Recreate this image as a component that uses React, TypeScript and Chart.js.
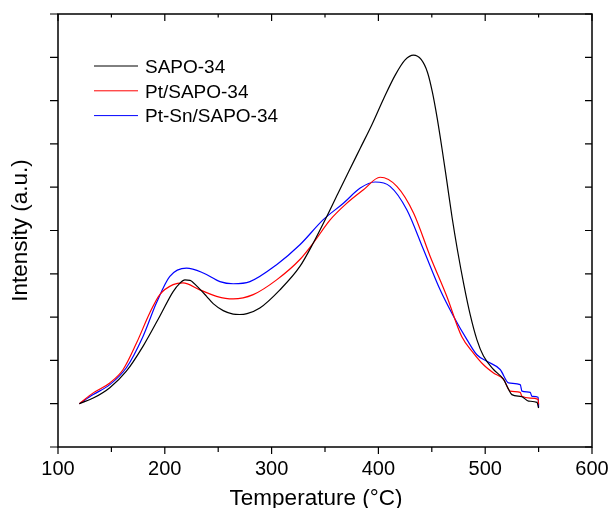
import React, { useEffect, useRef } from "react";
import { Chart, registerables } from "chart.js";

Chart.register(...registerables);

const seriesLabels = ["SAPO-34", "Pt/SAPO-34", "Pt-Sn/SAPO-34"];
const seriesColors = ["#000000", "#ff0000", "#0000ff"];

const xMajorTicks = [100, 200, 300, 400, 500, 600];
const xMinorTicks = [150, 250, 350, 450, 550];
const yTicks = [0, 1, 2, 3, 4, 5, 6, 7, 8, 9, 10];
const xTitle = "Temperature (\u00b0C)";
const yTitle = "Intensity (a.u.)";

const sapoTemp = [120, 133, 148.5, 164, 179.7, 195.3, 207.8, 214, 218.8, 223.6, 229.8, 239.1, 245.3, 254.7, 264, 270, 277, 289, 307.8, 326.5, 339, 351.6, 362, 372, 383, 394, 405, 416, 425, 432.8, 440, 446, 450.5, 455, 459.5, 464, 469, 474, 480, 486, 492.2, 498.4, 507.8, 517.2, 521.9, 525, 534.4, 540.6, 548.5, 550];
const sapoIntensity = [1.0, 1.13, 1.37, 1.75, 2.33, 3.02, 3.59, 3.78, 3.86, 3.85, 3.72, 3.48, 3.31, 3.15, 3.07, 3.06, 3.08, 3.21, 3.63, 4.17, 4.71, 5.32, 5.85, 6.35, 6.9, 7.45, 8.05, 8.6, 8.94, 9.05, 8.95, 8.65, 8.2, 7.6, 6.9, 6.15, 5.3, 4.55, 3.75, 3.05, 2.48, 2.1, 1.79, 1.56, 1.33, 1.21, 1.16, 1.06, 1.03, 0.9];

const ptTemp = [120, 133, 148.5, 161, 173.5, 186, 195.3, 207.8, 217, 232.8, 248.5, 264, 282.8, 304.7, 326.5, 339, 355, 370, 386, 401.6, 417.3, 433, 448.5, 464, 478, 489, 498.4, 507.8, 517.2, 523.5, 532.8, 534.4, 542.2, 549.6, 550];
const ptIntensity = [1.0, 1.25, 1.48, 1.79, 2.4, 3.1, 3.52, 3.75, 3.79, 3.63, 3.48, 3.42, 3.52, 3.86, 4.33, 4.71, 5.25, 5.62, 5.94, 6.23, 6.02, 5.4, 4.4, 3.48, 2.55, 2.17, 1.9, 1.71, 1.56, 1.29, 1.26, 1.17, 1.13, 1.1, 0.98];

const ptSnTemp = [120, 133, 148.5, 164, 179.7, 192.2, 204.7, 220.3, 236, 251.6, 264, 279.7, 304.7, 326.5, 348.4, 367.2, 383, 396.9, 410.9, 426.6, 442.2, 457.8, 470.3, 482.9, 492.2, 501.6, 514, 521.9, 532.8, 534.4, 542.2, 543.7, 549.6, 550];
const ptSnIntensity = [1.0, 1.21, 1.44, 1.83, 2.56, 3.33, 3.94, 4.13, 4.02, 3.82, 3.77, 3.82, 4.21, 4.67, 5.25, 5.63, 5.98, 6.12, 6.02, 5.48, 4.56, 3.63, 3.02, 2.48, 2.13, 1.98, 1.79, 1.48, 1.44, 1.29, 1.26, 1.17, 1.15, 0.92];

const seriesTemps = [sapoTemp, ptTemp, ptSnTemp];
const seriesValues = [sapoIntensity, ptIntensity, ptSnIntensity];

const FONT = "'Liberation Sans', Arial, Helvetica, sans-serif";

const framePlugin = {
  id: "frameAndLegend",
  afterDraw(chart: any) {
    const { ctx, scales } = chart;
    const xs = scales.x;
    const ys = scales.y;
    const left = xs.getPixelForValue(xMajorTicks[0]);
    const right = xs.getPixelForValue(xMajorTicks[xMajorTicks.length - 1]);
    const top = ys.getPixelForValue(yTicks[yTicks.length - 1]);
    const bottom = ys.getPixelForValue(yTicks[0]);
    ctx.save();
    ctx.strokeStyle = "#000";
    ctx.lineWidth = 1.5;
    ctx.strokeRect(left, top, right - left, bottom - top);
    ctx.lineWidth = 1.2;
    ctx.beginPath();
    xMajorTicks.forEach((v) => {
      const px = xs.getPixelForValue(v);
      ctx.moveTo(px, bottom);
      ctx.lineTo(px, bottom + 7);
      ctx.moveTo(px, top);
      ctx.lineTo(px, top + 7);
    });
    xMinorTicks.forEach((v) => {
      const px = xs.getPixelForValue(v);
      ctx.moveTo(px, bottom);
      ctx.lineTo(px, bottom + 5);
      ctx.moveTo(px, top);
      ctx.lineTo(px, top + 3.5);
    });
    yTicks.forEach((v) => {
      const py = ys.getPixelForValue(v);
      ctx.moveTo(left, py);
      ctx.lineTo(left - 8, py);
      ctx.moveTo(right, py);
      ctx.lineTo(right - 7, py);
    });
    ctx.stroke();

    // x axis title
    ctx.fillStyle = "#000";
    ctx.font = `22.5px ${FONT}`;
    ctx.textAlign = "center";
    ctx.textBaseline = "alphabetic";
    ctx.fillText(xTitle, 316, 505);

    // legend
    const lx0 = 94;
    const lx1 = 138;
    const ly0 = 66;
    const dy = 24.8;
    ctx.font = `19px ${FONT}`;
    ctx.textBaseline = "middle";
    ctx.textAlign = "left";
    seriesLabels.forEach((label, i) => {
      const yy = ly0 + dy * i;
      ctx.strokeStyle = seriesColors[i];
      ctx.lineWidth = 1;
      ctx.beginPath();
      ctx.moveTo(lx0, yy);
      ctx.lineTo(lx1, yy);
      ctx.stroke();
      ctx.fillStyle = "#000";
      ctx.fillText(label, 145, yy + 1.5);
    });
    ctx.restore();
  },
};

export default function App() {
  const canvasRef = useRef<HTMLCanvasElement | null>(null);

  useEffect(() => {
    if (!canvasRef.current) return;
    const datasets = seriesLabels.map((label, i) => ({
      label,
      data: seriesTemps[i].map((t, j) => ({ x: t, y: seriesValues[i][j] })),
      borderColor: seriesColors[i],
      backgroundColor: seriesColors[i],
      borderWidth: 1.2,
      pointRadius: 0,
      cubicInterpolationMode: "monotone",
      fill: false,
    }));
    const chart = new Chart(canvasRef.current, {
      type: "line",
      data: { datasets },
      options: {
        animation: false,
        responsive: false,
        maintainAspectRatio: false,
        layout: { padding: { top: 14, right: 17, left: 0, bottom: 0 } },
        plugins: { legend: { display: false }, tooltip: { enabled: false } },
        scales: {
          x: {
            type: "linear",
            min: 100,
            max: 600,
            afterBuildTicks: (s: any) => {
              s.ticks = xMajorTicks.map((v) => ({ value: v }));
            },
            ticks: {
              font: { size: 20, family: FONT },
              color: "#000",
              padding: 10,
              maxRotation: 0,
              autoSkip: false,
            },
            grid: { display: false, drawTicks: false },
            border: { display: false },
            title: { display: false },
            afterFit: (s: any) => {
              s.height = 61;
              s.paddingLeft = 0;
              s.paddingRight = 0;
            },
          },
          y: {
            type: "linear",
            min: 0,
            max: 10,
            ticks: { display: false },
            grid: { display: false, drawTicks: false },
            border: { display: false },
            title: {
              display: true,
              text: yTitle,
              font: { size: 22.5, family: FONT, lineHeight: 1 },
              color: "#000",
              padding: { top: 9.5, bottom: 0 },
            },
            afterFit: (s: any) => {
              s.width = 58;
              s.paddingTop = 0;
              s.paddingBottom = 0;
            },
          },
        },
      },
      plugins: [framePlugin],
    } as any);
    return () => chart.destroy();
  }, []);

  return (
    <div style={{ position: "fixed", left: 0, top: 0, width: 609, height: 508, background: "#fff" }}>
      <canvas ref={canvasRef} width={609} height={508} style={{ display: "block" }} />
    </div>
  );
}
